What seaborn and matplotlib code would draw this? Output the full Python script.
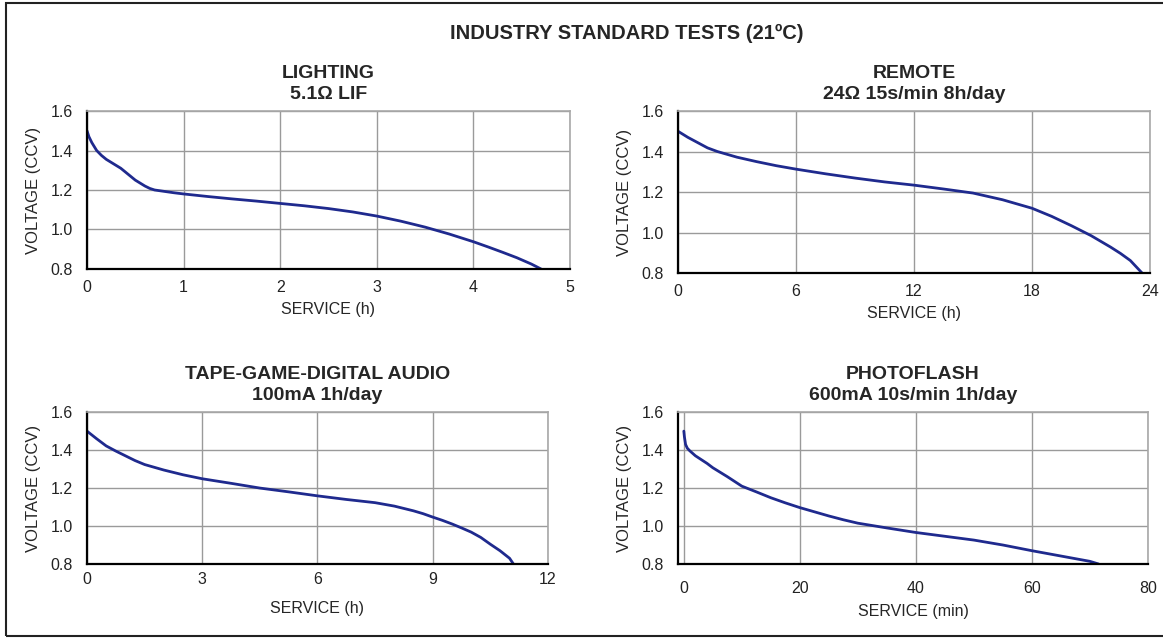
import matplotlib
matplotlib.use('Agg')
import matplotlib.pyplot as plt
import matplotlib.patches as patches
import seaborn as sns
import pandas as pd

# lighting 5.1 ohm
light_x = [0, 0.02, 0.05, 0.1, 0.15, 0.2, 0.25, 0.3, 0.35, 0.4, 0.45, 0.5, 0.55, 0.6, 0.65, 0.7, 0.8, 0.9,
           1.0, 1.25, 1.5, 1.75, 2.0, 2.25, 2.5, 2.75, 3.0, 3.25, 3.5, 3.75, 4.0, 4.15, 4.3, 4.45, 4.6, 4.7]
light_v = [1.50, 1.47, 1.44, 1.40, 1.375, 1.355, 1.34, 1.325, 1.31, 1.29, 1.27, 1.25, 1.235, 1.22, 1.208, 1.20, 1.193, 1.186,
           1.18, 1.167, 1.155, 1.144, 1.132, 1.12, 1.106, 1.089, 1.068, 1.042, 1.012, 0.977, 0.938, 0.912, 0.885, 0.857, 0.825, 0.80]

# remote 24 ohm
remote_x = [0, 0.5, 1, 1.5, 2, 3, 4, 5, 6, 7.5, 9, 10.5, 12, 13.5, 15, 16.5, 18, 19, 20, 21, 22, 22.5, 23, 23.6]
remote_v = [1.50, 1.47, 1.444, 1.418, 1.40, 1.372, 1.35, 1.33, 1.313, 1.29, 1.269, 1.25, 1.234, 1.215, 1.195, 1.162, 1.12,
            1.08, 1.034, 0.985, 0.928, 0.897, 0.862, 0.80]

# tape-game-digital audio 100mA
tape_x = [0, 0.25, 0.5, 0.75, 1, 1.25, 1.5, 2, 2.5, 3, 3.75, 4.5, 5.25, 6, 6.75, 7.5, 8, 8.5, 8.75, 9, 9.25, 9.5, 9.75,
          10, 10.25, 10.5, 10.75, 11, 11.1]
tape_v = [1.50, 1.46, 1.422, 1.395, 1.37, 1.345, 1.324, 1.295, 1.27, 1.249, 1.225, 1.20, 1.18, 1.159, 1.14, 1.123, 1.105,
          1.08, 1.065, 1.047, 1.03, 1.011, 0.99, 0.968, 0.94, 0.904, 0.87, 0.83, 0.80]

# photoflash 600mA
flash_x = [0, 0.1, 0.3, 0.6, 1, 2, 3, 4, 5, 7.5, 10, 12.5, 15, 17.5, 20, 22.5, 25, 27.5, 30, 35, 40, 45, 50, 55, 60, 65, 70, 71.5]
flash_v = [1.50, 1.47, 1.43, 1.41, 1.397, 1.37, 1.35, 1.33, 1.307, 1.26, 1.21, 1.18, 1.149, 1.122, 1.097, 1.075, 1.053,
           1.033, 1.015, 0.99, 0.966, 0.946, 0.926, 0.90, 0.87, 0.842, 0.814, 0.80]

panels = [
    ('LIGHTING\n5.1\u03a9 LIF', light_x, light_v, [0, 1, 2, 3, 4, 5], 'SERVICE (h)', (0, 5)),
    ('REMOTE\n24\u03a9 15s/min 8h/day', remote_x, remote_v, [0, 6, 12, 18, 24], 'SERVICE (h)', (0, 24)),
    ('TAPE-GAME-DIGITAL AUDIO\n100mA 1h/day', tape_x, tape_v, [0, 3, 6, 9, 12], 'SERVICE (h)', (0, 12)),
    ('PHOTOFLASH\n600mA 10s/min 1h/day', flash_x, flash_v, [0, 20, 40, 60, 80], 'SERVICE (min)', (-1, 80)),
]
y_ticks = [0.8, 1.0, 1.2, 1.4, 1.6]

sns.set_style('white')
plt.rcParams['font.family'] = ['Liberation Sans', 'DejaVu Sans']

fig = plt.figure(figsize=(11.63, 6.38), dpi=100)

positions = [
    [0.0748, 0.5784, 0.4153, 0.2476],
    [0.583, 0.572, 0.4058, 0.254],
    [0.0748, 0.116, 0.3964, 0.238],
    [0.583, 0.116, 0.4040, 0.238],
]
x_pads = [8, 8, 6, 12]
label_pads = [5, 5, 10, 6]

for i, (title, xs, vs, xt, xl, lim) in enumerate(panels):
    ax = fig.add_axes(positions[i])
    df = pd.DataFrame({'x': xs, 'v': vs})
    sns.lineplot(data=df, x='x', y='v', ax=ax, color='#1f2a8e', linewidth=2, sort=False)
    ax.set_xlim(*lim)
    ax.set_ylim(0.8, 1.6)
    ax.set_xticks(xt)
    ax.set_yticks(y_ticks)
    ax.set_yticklabels([f'{t:.1f}' for t in y_ticks])
    ax.grid(True, color='#9a9a9a', linewidth=1)
    ax.set_axisbelow(True)
    for s in ['top', 'right']:
        ax.spines[s].set_color('#a8a8a8')
        ax.spines[s].set_linewidth(1.2)
    for s in ['left', 'bottom']:
        ax.spines[s].set_color('black')
        ax.spines[s].set_linewidth(1.6)
    ax.tick_params(axis='both', length=0, labelsize=11.5, colors='#222222')
    ax.tick_params(axis='x', pad=x_pads[i])
    ax.tick_params(axis='y', pad=10)
    ax.set_xlabel(xl, fontsize=11.5, labelpad=label_pads[i])
    ax.set_ylabel('VOLTAGE (CCV)', fontsize=12, labelpad=7)
    ax.set_title(title, fontsize=14, fontweight='bold', pad=9, linespacing=1.3)

fig.text(0.539, 0.948, 'INDUSTRY STANDARD TESTS (21\u00baC)', ha='center', va='center',
         fontsize=14.5, fontweight='bold')

fig.add_artist(patches.Rectangle((6 / 1163, 2 / 638), 1.02, 633 / 638, transform=fig.transFigure,
                                 fill=False, edgecolor='#222222', linewidth=1.5))

plt.savefig('out.png', dpi=100)
